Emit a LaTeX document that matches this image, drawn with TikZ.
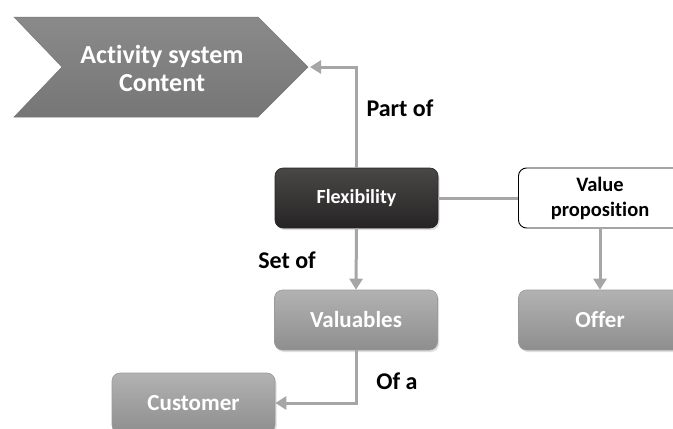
\documentclass[tikz,border=0pt]{standalone}
\usepackage{fontspec}
\setmainfont{Carlito}[Ligatures=NoCommon]
\usetikzlibrary{arrows.meta,shadows}
\definecolor{connc}{HTML}{A6A6A6}
\definecolor{boxtop}{HTML}{B2B2B2}
\definecolor{boxbot}{HTML}{8E8E8E}
\definecolor{boxedge}{HTML}{9A9A9A}
\definecolor{darktop}{HTML}{4A4747}
\definecolor{darkbot}{HTML}{262424}
\definecolor{chevtop}{HTML}{8A8A8A}
\definecolor{chevbot}{HTML}{767676}
\begin{document}
\begin{tikzpicture}[x=1pt,y=-1pt,
  box/.style={rounded corners=8pt, minimum width=163pt, minimum height=60pt,
    inner sep=0pt, align=center, font=\fontsize{20}{25}\selectfont\bfseries},
  shad/.style={drop shadow={opacity=0.25, shadow xshift=1.5pt, shadow yshift=-2pt}},
  graybox/.style={box, shad, top color=boxtop, bottom color=boxbot, draw=boxedge,
    line width=0.6pt, text=white, font=\fontsize{23}{27}\selectfont\bfseries},
  darkbox/.style={box, shad, top color=darktop, bottom color=darkbot, draw=darkbot,
    line width=0.6pt, text=white},
  whitebox/.style={box, fill=white, draw=black, line width=0.9pt, text=black,
    font=\fontsize{20.5}{25}\selectfont\bfseries},
  lbl/.style={font=\fontsize{24}{28}\selectfont\bfseries, text=black, inner sep=0pt},
  conn/.style={draw=connc, line width=3pt},
  arr/.style={conn, -{Triangle[width=13pt,length=11pt]}}
]
\useasboundingbox (0,0) rectangle (673,429);
\clip (0,0) rectangle (673,429);

% chevron
\path[top color=chevtop, bottom color=chevbot, draw=chevbot, line width=0.5pt]
  (14,17) -- (258,17) -- (308,67) -- (258,117) -- (14,117) -- (62,67) -- cycle;
\coordinate (acttip) at (310,67);
\node[align=center, text=white, font=\fontsize{26}{28}\selectfont\bfseries]
  (act) at (162,68) {Activity system\\Content};

% boxes
\node[darkbox] (flex) at (356.5,198) {Flexibility};
\node[whitebox] (vp) at (600,198) {Value\\proposition};
\node[graybox] (val) at (356,320) {Valuables};
\node[graybox] (offer) at (600,320) {Offer};
\node[graybox] (cust) at (193.5,403) {Customer};

% connectors
\draw[arr] (flex.north) |- (acttip);
\draw[conn] (flex.east) -- (vp.west);
\draw[arr] (flex.south) -- (val.north);
\draw[arr] (vp.south) -- (offer.north);
\draw[arr] (val.south) |- (cust.east);

% labels
\node[lbl] (partof) at (400,108) {Part of};
\node[lbl] (setof) at (287,260) {Set of};
\node[lbl] (ofa) at (397,381) {Of a};
\end{tikzpicture}
\end{document}
